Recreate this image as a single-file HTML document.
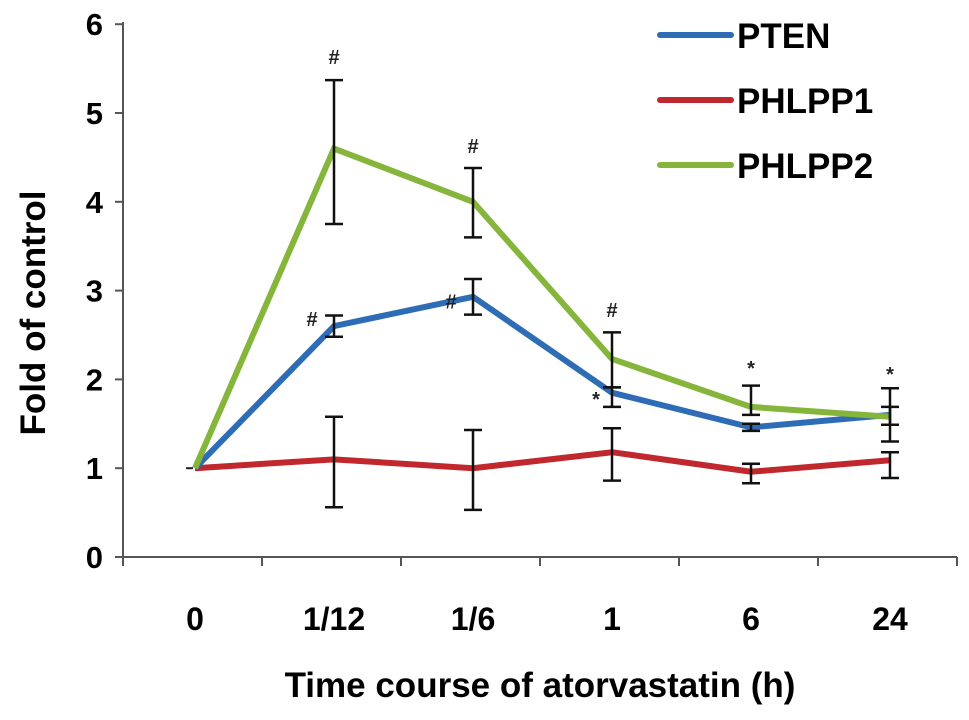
<!DOCTYPE html>
<html><head><meta charset="utf-8"><style>
body{margin:0;background:#fff}
svg text{font-family:"Liberation Sans",Arial,sans-serif;font-weight:bold}
</style></head><body>
<svg id="chart" width="969" height="715" viewBox="0 0 969 715" xmlns="http://www.w3.org/2000/svg"></svg>
<script>
const categories=["0","1/12","1/6","1","6","24"];
const yTicks=[0,1,2,3,4,5,6];
const seriesNames=["PTEN","PHLPP1","PHLPP2"];
const seriesColors=["#2e6db5","#c0282d","#85b53a"];
const ptenValues=[1,2.6,2.93,1.85,1.46,1.6];
const phlpp1Values=[1,1.1,1.0,1.18,0.96,1.09];
const phlpp2Values=[1,4.6,4.0,2.23,1.69,1.58];
const ptenErrLow=[null,2.48,2.73,1.69,1.42,1.3];
const ptenErrHigh=[null,2.72,3.13,1.91,1.5,1.69];
const phlpp1ErrLow=[null,0.56,0.53,0.86,0.83,0.89];
const phlpp1ErrHigh=[null,1.58,1.43,1.45,1.05,1.18];
const phlpp2ErrLow=[null,3.75,3.6,1.91,1.6,1.49];
const phlpp2ErrHigh=[null,5.37,4.38,2.53,1.93,1.9];
const annotations=[[1,5.55,"#",2],[2,4.55,"#",2],[3,2.7,"#",2],[1,2.6,"#",0],[2,2.8,"#",0],[3,1.7,"*",0],[4,2.05,"*",2],[5,1.98,"*",2]];

const svg=document.getElementById('chart');
const NS="http://www.w3.org/2000/svg";
const x=i=>195+139*i;
const y=v=>557-88.8*v;
function mk(tag,attrs,parent){const e=document.createElementNS(NS,tag);for(const k in attrs)e.setAttribute(k,attrs[k]);(parent||svg).appendChild(e);return e;}

let a=mk('line',{x1:123,y1:22,x2:123,y2:557,stroke:'#555','stroke-width':2});


a=mk('line',{x1:123,y1:557,x2:957,y2:557,stroke:'#555','stroke-width':2});


yTicks.forEach(t=>{
  const l=mk('line',{x1:115,y1:y(t),x2:123,y2:y(t),stroke:'#555','stroke-width':2});
  
  
  const tx=mk('text',{x:103,y:y(t)+11,'font-size':31,'text-anchor':'end'});
  tx.textContent=t;
  
  
});
for(let i=0;i<=categories.length;i++){
  const xx=123+139*i;
  const l=mk('line',{x1:xx,y1:557,x2:xx,y2:566,stroke:'#555','stroke-width':2});
  
  
}
categories.forEach((c,i)=>{
  const tx=mk('text',{x:x(i),y:630,'font-size':32,'text-anchor':'middle'});
  tx.textContent=c;
  
  
});
let t=mk('text',{x:540,y:697,'font-size':35,'text-anchor':'middle'});
t.textContent="Time course of atorvastatin (h)";


t=mk('text',{x:0,y:0,'font-size':35,'text-anchor':'middle',transform:'translate(45,313) rotate(-90)'});
t.textContent="Fold of control";



const vals=[ptenValues,phlpp1Values,phlpp2Values];
const lows=[ptenErrLow,phlpp1ErrLow,phlpp2ErrLow];
const highs=[ptenErrHigh,phlpp1ErrHigh,phlpp2ErrHigh];
const order=[1,0,2];
order.forEach(s=>{
  const p=mk('polyline',{points:vals[s].map((v,i)=>x(i)+','+y(v)).join(' '),fill:'none',stroke:seriesColors[s],'stroke-width':6,'stroke-linejoin':'miter'});
  
  
});
order.forEach(s=>{
  vals[s].forEach((v,i)=>{
    if(lows[s][i]==null)return;
    const g=mk('g',{stroke:'#111','stroke-width':2.5});
    
    
    mk('line',{x1:x(i),y1:y(lows[s][i]),x2:x(i),y2:y(highs[s][i])},g);
    mk('line',{x1:x(i)-9,y1:y(lows[s][i]),x2:x(i)+9,y2:y(lows[s][i])},g);
    mk('line',{x1:x(i)-9,y1:y(highs[s][i]),x2:x(i)+9,y2:y(highs[s][i])},g);
  });
});
annotations.forEach(([i,v,s,ser])=>{
  const dx=ser===0?(s==="*"?-16:-22):0;
  const tx=mk('text',{x:x(i)+dx,y:y(v),'font-size':20,'text-anchor':'middle','font-weight':'normal',fill:'#222'});
  tx.textContent=s;
  
  
});
seriesNames.forEach((n,k)=>{
  const yy=35+65*k;
  const g=mk('g',{});
  
  
  mk('line',{x1:660,y1:yy,x2:731,y2:yy,stroke:seriesColors[k],'stroke-width':6,'stroke-linecap':'round'},g);
  const tx=mk('text',{x:737,y:yy+13,'font-size':35},g);
  tx.textContent=n;
});
const l0=mk('line',{x1:186,y1:y(1),x2:193,y2:y(1),stroke:'#222','stroke-width':2});


</script>
</body></html>
